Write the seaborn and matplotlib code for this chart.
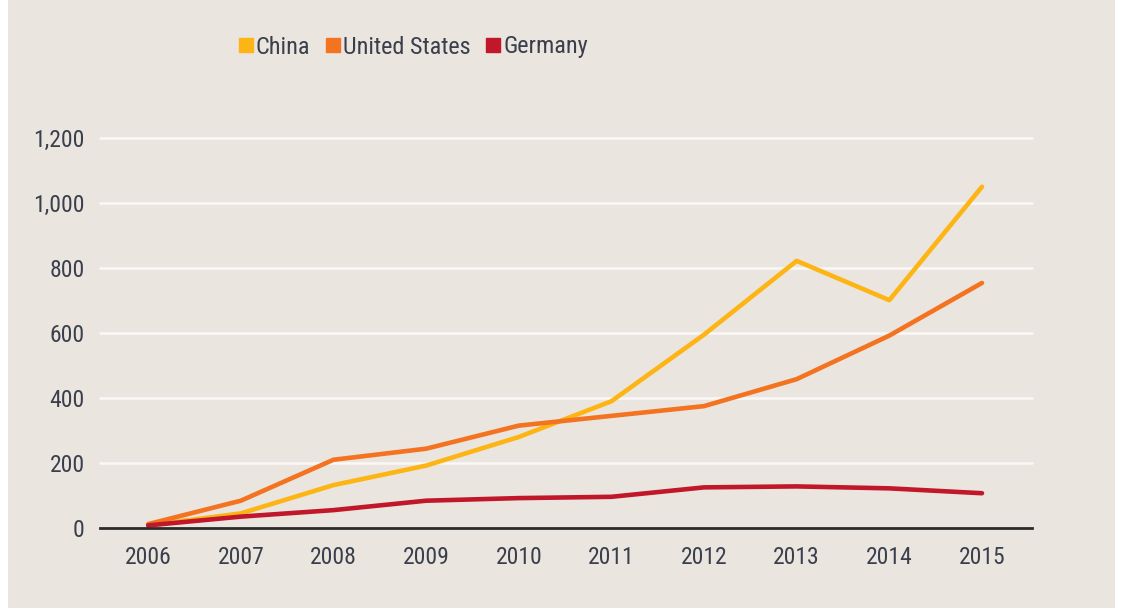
import matplotlib
matplotlib.use("Agg")
import matplotlib.pyplot as plt
from matplotlib.lines import Line2D
from matplotlib.patches import Rectangle
from matplotlib import font_manager
import seaborn as sns
import pandas as pd

years = [2006, 2007, 2008, 2009, 2010, 2011, 2012, 2013, 2014, 2015]
china = [8, 45, 132, 192, 280, 390, 595, 822, 701, 1050]
united_states = [12, 84, 210, 244, 315, 345, 375, 458, 592, 754]
germany = [8, 35, 55, 84, 92, 96, 125, 128, 122, 107]
series_names = ["China", "United States", "Germany"]
colors = ["#FDB515", "#F47321", "#C0182A"]
y_ticks = [0, 200, 400, 600, 800, 1000, 1200]
y_tick_labels = ["0", "200", "400", "600", "800", "1,000", "1,200"]

df = pd.DataFrame({
    "year": years * 3,
    "value": china + united_states + germany,
    "country": [series_names[0]] * len(years) + [series_names[1]] * len(years) + [series_names[2]] * len(years),
})

sns.set_theme(style="white")
names = {f.name for f in font_manager.fontManager.ttflist}
narrow = None
for cand in ["Liberation Sans Narrow", "DejaVu Sans Condensed", "Roboto Condensed", "Open Sans Condensed"]:
    if cand in names:
        narrow = cand
        break
if narrow:
    plt.rcParams["font.family"] = [narrow, "DejaVu Sans"]
else:
    plt.rcParams["font.family"] = ["DejaVu Sans"]
    plt.rcParams["font.stretch"] = "condensed"

bg = "#EBE5DF"
txt = "#3A3F4C"

fig = plt.figure(figsize=(11.22, 6.15), dpi=100)
fig.patch.set_facecolor("white")
fig.patches.append(Rectangle((8 / 1122, 7 / 615), (1115 - 8) / 1122, 1 - 7 / 615,
                             transform=fig.transFigure, facecolor=bg, edgecolor="none", zorder=-10))

ax = fig.add_axes([100 / 1122, (615 - 528) / 615, (1032 - 100) / 1122, (528 - 138) / 615])
ax.set_facecolor(bg)

sns.lineplot(data=df, x="year", y="value", hue="country", hue_order=series_names,
             palette=colors, linewidth=3.3, ax=ax, legend=False, zorder=3)

ax.set_xlim(2005.48, 2015.54)
ax.set_ylim(0, 1200)
ax.set_yticks(y_ticks)
ax.set_yticklabels(y_tick_labels)
ax.set_xticks(years)
ax.set_xticklabels([str(y) for y in years])
ax.set_xlabel("")
ax.set_ylabel("")

for v in y_ticks[1:]:
    ax.axhline(v, color="#FAF8F6", linewidth=1.8, zorder=1, clip_on=False)

for s in ["top", "right", "left"]:
    ax.spines[s].set_visible(False)
ax.spines["bottom"].set_color("#2B2B2B")
ax.spines["bottom"].set_linewidth(2)
ax.spines["bottom"].set_zorder(4)

ax.tick_params(axis="both", length=0, labelsize=17, colors=txt)
ax.tick_params(axis="y", pad=11)
ax.tick_params(axis="x", pad=13)

handles = [Line2D([0], [0], marker="s", linestyle="none", markersize=10,
                  markerfacecolor=c, markeredgecolor=c) for c in colors]
fig.legend(handles, series_names, loc="center left", bbox_to_anchor=(236 / 1122, 1 - 47 / 615),
           ncol=3, frameon=False, fontsize=17.5, handletextpad=0.0, columnspacing=0.55,
           labelcolor=txt, handlelength=0.8, borderaxespad=0, borderpad=0)

fig.savefig("out.png", dpi=100, facecolor=fig.get_facecolor())
